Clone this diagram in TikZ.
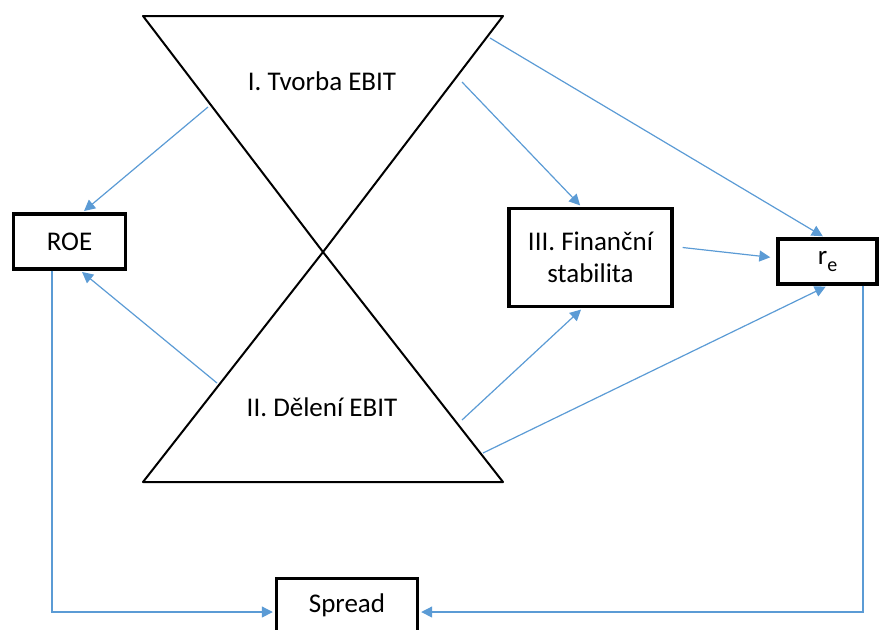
\documentclass[tikz,border=0pt]{standalone}
\usepackage{fontspec}
\setmainfont{Carlito}
\usetikzlibrary{arrows.meta,calc}
\definecolor{linkblue}{RGB}{91,155,213}

\begin{document}
\begin{tikzpicture}[x=0.5pt, y=-0.5pt, font=\fontsize{13.5}{16}\selectfont,
		box/.style={draw, rectangle, line width=1.7pt, inner sep=2pt, align=center},
		link/.style={draw=linkblue, line width=0.6pt, -{Triangle[length=5.5pt,width=5.5pt]}, shorten >=1pt}]
	\clip (0,0) rectangle (881,629);
	% hourglass
	\coordinate (tl) at (143,16);
	\coordinate (tr) at (503,16);
	\coordinate (mid) at (323,252);
	\coordinate (bl) at (143,482);
	\coordinate (br) at (503,482);
	\draw[line width=1pt, line join=round] (tl) -- (tr) -- (mid) -- cycle;
	\draw[line width=1pt, line join=round] (mid) -- (br) -- (bl) -- cycle;
	\node (tvorba) at (322,81) {I. Tvorba EBIT};
	\node (deleni) at (322,407) {II. Dělení EBIT};
	% boxes
	\node (roe) [box, minimum width=56pt, minimum height=27.5pt] at (69.5,241.5) {ROE};
	\node (fin) [box, minimum width=81.5pt, minimum height=49pt] at (590.5,257.5) {III. Finanční\\stabilita};
	\node (re) [box, minimum width=49.5pt, minimum height=22.5pt] at (827.5,261.5) {r\raisebox{-0.5ex}{\fontsize{10}{12}\selectfont e}};
	\node (spread) [box, minimum width=70.5pt, minimum height=26.5pt] at (347,605) {Spread};
	% starts on the hourglass
	\coordinate (s1) at (208,107);
	\coordinate (s2) at (217,383);
	\coordinate (s3) at (462,82);
	\coordinate (s4) at (462,420);
	\coordinate (s5) at (490,38);
	\coordinate (s6) at (483,453);
	% links
	\draw[link] (s1) -- ($(roe.north)+(13,0)$);
	\draw[link] (s2) -- ($(roe.south)+(11,0)$);
	\draw[link] (s3) -- ($(fin.north)+(-9,0)$);
	\draw[link] (s4) -- ($(fin.south)+(-8,0)$);
	\draw[link] (s5) -- ($(re.north)+(-3,0)$);
	\draw[link] (s6) -- (re.south);
	\draw[link] ($(fin.east)+(9,-10)$) -- ($(re.west)+(-4,-4)$);
	\draw[link] ($(roe.south)+(-17.5,0)$) |- ($(spread.west)+(0,7)$);
	\draw[link] ($(re.south)+(35.5,0)$) |- ($(spread.east)+(0,7)$);
\end{tikzpicture}
\end{document}
